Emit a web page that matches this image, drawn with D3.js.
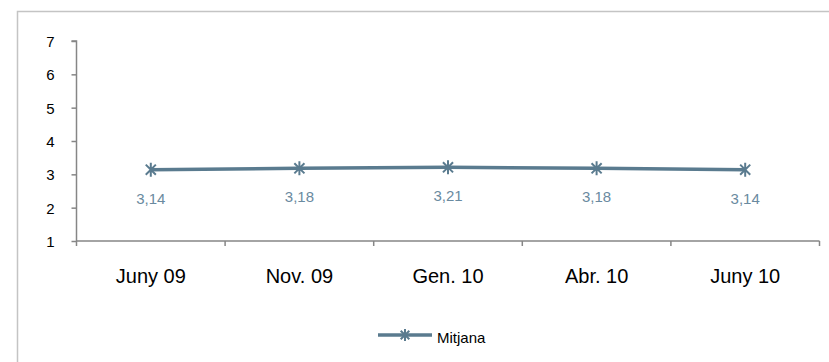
<!DOCTYPE html>
<html><head><meta charset="utf-8">
<script src="https://cdn.jsdelivr.net/npm/d3@7"></script>
<style>html,body{margin:0;padding:0;background:#fff;}svg{display:block;}</style>
</head><body>
<script>
const categories = ["Juny 09", "Nov. 09", "Gen. 10", "Abr. 10", "Juny 10"];
const values = [3.14, 3.18, 3.21, 3.18, 3.14];
const valueLabels = ["3,14", "3,18", "3,21", "3,18", "3,14"];
const yTicks = [1, 2, 3, 4, 5, 6, 7];
const seriesName = "Mitjana";

const W = 829, H = 362;
const svg = d3.select("body").append("svg").attr("width", W).attr("height", H);
const font = "Arial, 'Liberation Sans', sans-serif";
const lineColor = "#5a7b8f";
const labelColor = "#6a8aa0";
const axisColor = "#868686";

// outer frame
svg.append("rect").attr("x", 17.5).attr("y", 11.5).attr("width", W).attr("height", H)
  .attr("fill", "none").attr("stroke", "#c4c4c4").attr("stroke-width", 1.5);

const x0 = 76.5, x1 = 819.5, yTop = 41, yBot = 241;
const x = d3.scaleBand().domain(categories).range([x0, x1]);
const y = d3.scaleLinear().domain([1, 7]).range([yBot, yTop]);

// y axis
const yAxis = svg.append("g").attr("transform", `translate(${x0},0)`)
  .call(d3.axisLeft(y).tickValues(yTicks).tickSize(5).tickPadding(17).tickFormat(d3.format("d")));
yAxis.selectAll("path,line").attr("stroke", axisColor).attr("stroke-width", 1.5);
yAxis.select(".domain").attr("d", `M-5,${yTop}H0V${yBot}`);
yAxis.selectAll("text").attr("font-family", font).attr("font-size", 15).attr("fill", "#000").attr("dy", "0.36em");

// x axis
const xAxis = svg.append("g").attr("transform", `translate(0,${yBot})`)
  .call(d3.axisBottom(x).tickSize(0).tickPadding(0));
xAxis.select(".domain").attr("stroke", axisColor).attr("stroke-width", 1.5).attr("d", `M${x0},0H${x1}`);
xAxis.selectAll(".tick text").attr("font-family", font).attr("font-size", 20).attr("fill", "#000")
  .attr("y", 42).attr("dy", 0);
const bounds = categories.map(c => x(c)).concat([x1]);
xAxis.selectAll("line.bound").data(bounds).enter().append("line").attr("class", "bound")
  .attr("x1", d => d).attr("x2", d => d).attr("y1", 0).attr("y2", 5)
  .attr("stroke", axisColor).attr("stroke-width", 1.5);

const cx = d => x(d) + x.bandwidth() / 2;

// line
svg.append("path").datum(values)
  .attr("d", d3.line().x((d, i) => cx(categories[i])).y(d => y(d)))
  .attr("fill", "none").attr("stroke", lineColor).attr("stroke-width", 3.5);

function star(g, px, py, r) {
  const s = r * 0.72;
  g.append("path")
    .attr("d", `M${px - s},${py - s}L${px + s},${py + s}M${px - s},${py + s}L${px + s},${py - s}M${px},${py - r}L${px},${py + r}`)
    .attr("stroke", lineColor).attr("stroke-width", 2).attr("fill", "none");
}
const mk = svg.append("g");
values.forEach((v, i) => star(mk, cx(categories[i]), y(v), 7));

// data labels
svg.append("g").selectAll("text").data(values).enter().append("text")
  .attr("x", (d, i) => cx(categories[i])).attr("y", d => y(d) + 34)
  .attr("text-anchor", "middle").attr("font-family", font).attr("font-size", 15)
  .attr("fill", labelColor).text((d, i) => valueLabels[i]);

// legend
const lg = svg.append("g");
lg.append("line").attr("x1", 378).attr("x2", 432).attr("y1", 335).attr("y2", 335)
  .attr("stroke", lineColor).attr("stroke-width", 3.5);
star(lg, 405, 335, 6);
lg.append("text").attr("x", 437).attr("y", 343).attr("font-family", font).attr("font-size", 15)
  .attr("fill", "#000").text(seriesName);
</script>
</body></html>
